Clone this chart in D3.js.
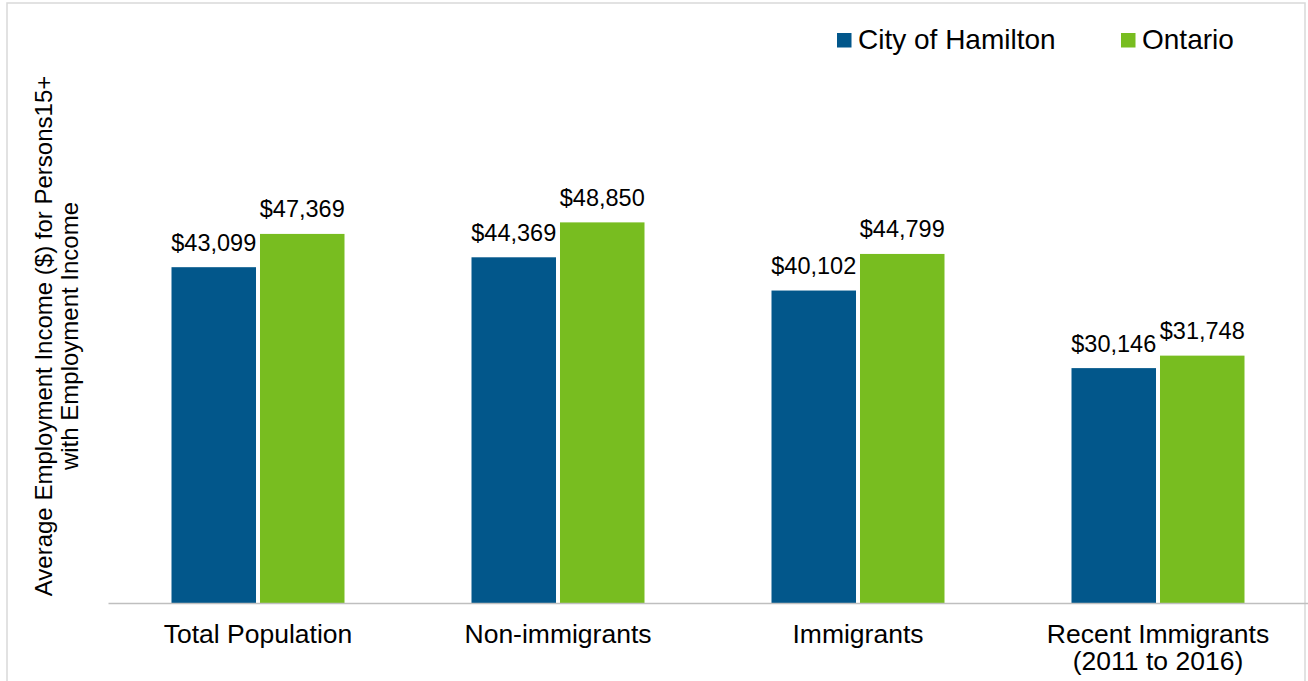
<!DOCTYPE html>
<html>
<head>
<meta charset="utf-8">
<script src="https://cdn.jsdelivr.net/npm/d3@7"></script>
<style>
  body { margin: 0; background: #fff; }
  svg text { font-family: "Liberation Sans", Arial, sans-serif; fill: #000; }
</style>
</head>
<body>
<div id="bar_chart"></div>
<script>
//chart data
var categories = ["Total Population", "Non-immigrants", "Immigrants", "Recent Immigrants|(2011 to 2016)"];
var series = ["City of Hamilton", "Ontario"];
var hamiltonValues = [43099, 44369, 40102, 30146];
var ontarioValues = [47369, 48850, 44799, 31748];
var yTitleLines = ["Average Employment Income ($) for Persons15+", "with Employment Income"];

var colors = ["#02578b", "#78bd20"];

//setting dimensions
var width = 1308, height = 681;
var plotLeft = 108, plotRight = 1308, plotBottom = 603;

//appending svg object to body
var svg = d3.select("#bar_chart")
  .append("svg")
  .attr("width", width)
  .attr("height", height);

//outer border
svg.append("rect")
  .attr("x", 7)
  .attr("y", 3)
  .attr("width", 1298)
  .attr("height", 690)
  .style("fill", "none")
  .style("stroke", "#d9d9d9")
  .style("stroke-width", 1.5);

//building rows from the arrays
var data = categories.map(function(c, i) {
  return { cat: c, values: [hamiltonValues[i], ontarioValues[i]] };
});

//scales
var x0 = d3.scaleBand().domain(categories).range([plotLeft, plotRight]);
var groupW = 173;
var x1 = d3.scaleBand().domain(series).range([0, groupW]).paddingInner(0.045);
var y = d3.scaleLinear().domain([0, 60000]).range([plotBottom, 135.5]);
var color = d3.scaleOrdinal().domain(series).range(colors);

//bars
var groups = svg.selectAll(".group")
  .data(data)
  .enter().append("g")
  .attr("class", "group")
  .attr("transform", function(d) {
    return "translate(" + (x0(d.cat) + (x0.bandwidth() - groupW) / 2) + ",0)";
  });

groups.selectAll("rect")
  .data(function(d) { return d.values.map(function(v, j) { return { s: series[j], v: v }; }); })
  .enter().append("rect")
  .attr("x", function(d) { return x1(d.s); })
  .attr("y", function(d) { return y(d.v); })
  .attr("width", x1.bandwidth())
  .attr("height", function(d) { return plotBottom - y(d.v); })
  .attr("fill", function(d) { return color(d.s); });

//value labels
groups.selectAll(".lbl")
  .data(function(d) { return d.values.map(function(v, j) { return { s: series[j], v: v }; }); })
  .enter().append("text")
  .attr("class", "lbl")
  .attr("x", function(d) { return x1(d.s) + x1.bandwidth() / 2; })
  .attr("y", function(d) { return y(d.v) - 16.5; })
  .attr("text-anchor", "middle")
  .style("font-size", "23.5px")
  .text(function(d) { return "$" + d3.format(",")(d.v); });

//x axis
var xAxis = svg.append("g")
  .attr("transform", "translate(0," + plotBottom + ")")
  .call(d3.axisBottom(x0).tickSize(0).tickFormat(""));
xAxis.select(".domain").attr("stroke", "#bfbfbf").attr("stroke-width", 1.5);

//category labels (multi-line)
xAxis.selectAll(".tick").each(function(d) {
  var lines = d.split("|");
  var t = d3.select(this).append("text")
    .attr("text-anchor", "middle")
    .style("font-size", "26.5px");
  lines.forEach(function(l, i) {
    t.append("tspan").attr("x", 0).attr("y", 40 + i * 27).text(l);
  });
});

//y axis title
var yTitle = svg.append("text")
  .attr("transform", "translate(0,336) rotate(-90)")
  .attr("text-anchor", "middle")
  .style("font-size", "24px");
yTitleLines.forEach(function(l, i) {
  yTitle.append("tspan").attr("x", 0).attr("y", 52 + i * 26).text(l);
});

//legend
var legendX = [837, 1121];
var legend = svg.selectAll(".legend")
  .data(series)
  .enter().append("g")
  .attr("class", "legend")
  .attr("transform", function(d, i) { return "translate(" + legendX[i] + ",33)"; });

legend.append("rect")
  .attr("width", 14.5)
  .attr("height", 14.5)
  .attr("fill", function(d) { return color(d); });

legend.append("text")
  .attr("x", 21)
  .attr("y", 16)
  .style("font-size", "28px")
  .text(function(d) { return d; });
</script>
</body>
</html>
